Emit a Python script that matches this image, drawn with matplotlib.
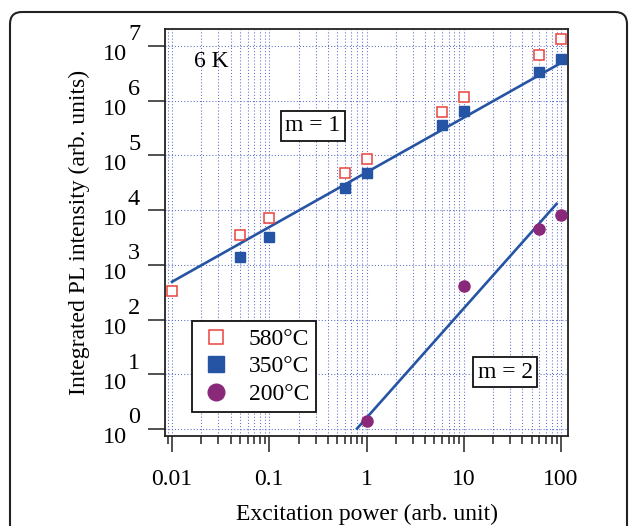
import numpy as np
import matplotlib
matplotlib.use('Agg')
import matplotlib.pyplot as plt
import matplotlib.patches as mpatches
from matplotlib.transforms import IdentityTransform
from matplotlib.ticker import FixedLocator, NullFormatter, NullLocator

plt.rcParams['font.family'] = ['Liberation Serif', 'DejaVu Serif']

# --- data ---
x_580 = [0.01, 0.05, 0.1, 0.6, 1, 6, 10, 60, 100]
y_580 = [330, 3500, 7200, 48000, 87000, 6.3e5, 1.17e6, 6.9e6, 1.35e7]

x_350 = [0.05, 0.1, 0.6, 1, 6, 10, 60, 100]
y_350 = [1400, 3200, 25000, 48000, 3.6e5, 6.5e5, 3.4e6, 5.8e6]

x_200 = [1, 10, 60, 100]
y_200 = [1.4, 410, 4500, 8200]

# fit lines (end points)
fit1_x = [0.01, 100]
fit1_y = [490, 4.9e6]
fit2_x = [0.8, 90]
fit2_y = [1.02, 1.3e4]

x_ticks = [0.01, 0.1, 1, 10, 100]
x_ticklabels = ['0.01', '0.1', '1', '10', '100']
y_exponents = [0, 1, 2, 3, 4, 5, 6, 7]

RED = '#e8423d'
BLUE = '#2654a5'
PURPLE = '#8a287a'
GRID = '#5e70cc'
PX = 0.72  # points per pixel at dpi 100
FS = 17

fig = plt.figure(figsize=(6.29, 5.26), dpi=100)
ax = fig.add_axes([165 / 629, 1 - 436 / 526, 403 / 629, 407 / 526])

ax.set_xscale('log')
ax.set_yscale('log')
ax.set_xlim(10 ** -2.072, 10 ** 2.072)
ax.set_ylim(10 ** -0.128, 10 ** 7.31)

# grid
ax.grid(True, which='major', axis='both', color=GRID, linestyle=(0, (1.0, 2.0)), linewidth=0.75)
ax.grid(True, which='minor', axis='x', color=GRID, linestyle=(0, (1.0, 2.0)), linewidth=0.75)
ax.set_axisbelow(True)

# fit lines
ax.plot(fit1_x, fit1_y, color=BLUE, linewidth=1.9, zorder=2)
ax.plot(fit2_x, fit2_y, color=BLUE, linewidth=1.9, zorder=2)

# data
ax.plot(x_580, y_580, linestyle='none', marker='s', markersize=6.8,
        markerfacecolor='white', markeredgecolor=RED, markeredgewidth=1.1,
        label='580°C', zorder=3)
ax.plot(x_350, y_350, linestyle='none', marker='s', markersize=7.8,
        color=BLUE, label='350°C', zorder=3)
ax.plot(x_200, y_200, linestyle='none', marker='o', markersize=8,
        color=PURPLE, label='200°C', zorder=3)

# ticks
ax.xaxis.set_major_locator(FixedLocator(x_ticks))
ax.set_xticklabels(x_ticklabels, fontsize=FS)
ax.tick_params(axis='x', which='major', direction='out', length=16 * PX, width=1.1,
               pad=17 * PX, color='#222222')
ax.tick_params(axis='x', which='minor', direction='out', length=8 * PX, width=1.1,
               color='#222222')
ax.xaxis.set_minor_formatter(NullFormatter())

ax.yaxis.set_major_locator(FixedLocator([10.0 ** n for n in y_exponents]))
ax.yaxis.set_minor_locator(NullLocator())
ax.yaxis.set_major_formatter(NullFormatter())
ax.tick_params(axis='y', which='major', direction='out', length=17 * PX, width=1.1,
               color='#222222')

for n in y_exponents:
    ax.annotate('10', xy=(0, 10.0 ** n), xycoords=('axes fraction', 'data'),
                xytext=(-38 * PX, -9 * PX), textcoords='offset points',
                ha='right', va='center', fontsize=FS + 0.5, annotation_clip=False)
    ax.annotate(str(n), xy=(0, 10.0 ** n), xycoords=('axes fraction', 'data'),
                xytext=(-37 * PX, 11 * PX), textcoords='offset points',
                ha='left', va='center', fontsize=FS + 0.5, annotation_clip=False)

for s in ax.spines.values():
    s.set_linewidth(1.3)
    s.set_color('#222222')

ax.set_xlabel('Excitation power (arb. unit)', fontsize=FS, labelpad=10)
ax.set_ylabel('Integrated PL intensity (arb. units)', fontsize=FS, labelpad=38)

# annotations
ax.text(0.114, 0.921, '6 K', transform=ax.transAxes, fontsize=FS,
        ha='center', va='center')
box = dict(boxstyle='square,pad=0.18', facecolor='white', edgecolor='#111111', linewidth=1.3)
ax.text(0.367, 0.762, 'm = 1', transform=ax.transAxes, fontsize=FS,
        ha='center', va='center', bbox=box, zorder=5)
ax.text(0.844, 0.157, 'm = 2', transform=ax.transAxes, fontsize=FS,
        ha='center', va='center', bbox=box, zorder=5)

leg = ax.legend(loc='lower left', bbox_to_anchor=(0.067, 0.059), borderaxespad=0,
                fontsize=FS, frameon=True, fancybox=False, framealpha=1,
                edgecolor='#111111', markerscale=1.5, handlelength=1.4,
                handletextpad=0.7, borderpad=0.3, labelspacing=0.25)
leg.get_frame().set_linewidth(1.3)

# rounded outer frame
frame = mpatches.FancyBboxPatch((10, -60), 617, 514 + 60,
                                boxstyle='round,pad=0,rounding_size=12',
                                transform=IdentityTransform(), facecolor='none',
                                edgecolor='#222222', linewidth=1.5)
fig.add_artist(frame)

fig.savefig('out.png', dpi=100)
